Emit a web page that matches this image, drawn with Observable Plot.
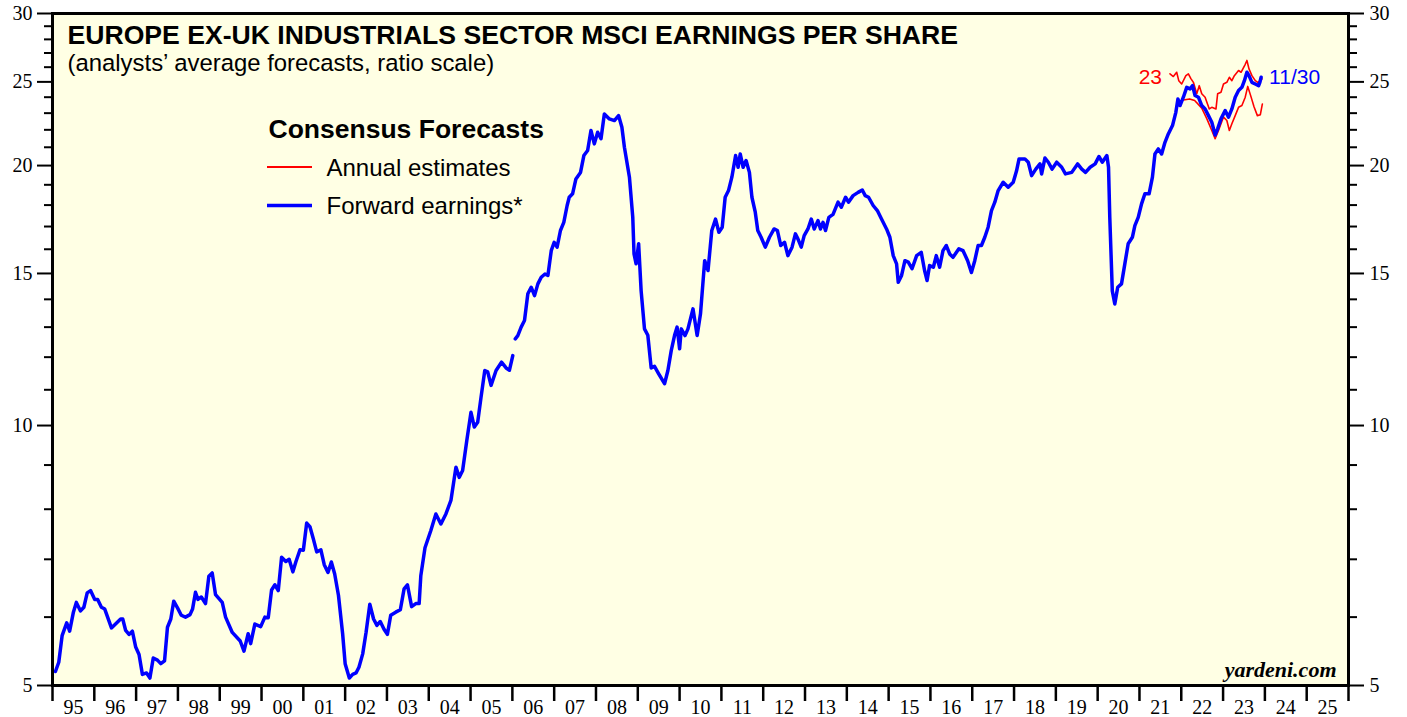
<!DOCTYPE html>
<html><head><meta charset="utf-8">
<script src="https://cdn.jsdelivr.net/npm/d3@7"></script>
<script src="https://cdn.jsdelivr.net/npm/@observablehq/plot@0.6"></script>
<style>html,body{margin:0;padding:0;background:#fff;} svg{display:block}</style>
</head><body><div id="chart"></div>
<script>
// ---- Data ----
const fwdYears = [
1995.07,1995.15,1995.23,1995.34,1995.41,1995.50,1995.57,1995.67,1995.75,1995.83,1995.91,
1996.01,1996.08,1996.17,1996.25,1996.41,1996.63,1996.68,1996.75,1996.83,1996.91,1996.99,
1997.07,1997.15,1997.25,1997.33,1997.41,1997.51,1997.59,1997.68,1997.75,1997.83,1997.90,1997.99,
1998.08,1998.18,1998.29,1998.35,1998.42,1998.48,1998.56,1998.66,1998.74,1998.82,1998.90,
1999.06,1999.14,1999.30,1999.49,1999.58,1999.68,1999.74,1999.84,1999.98,
2000.08,2000.16,2000.24,2000.32,2000.40,2000.48,2000.58,2000.66,2000.75,2000.82,2000.92,
2001.00,2001.08,2001.16,2001.24,2001.32,2001.42,2001.50,2001.59,2001.67,2001.75,2001.84,2001.94,
2002.00,2002.10,2002.18,2002.26,2002.33,2002.42,2002.50,2002.59,2002.68,2002.76,2002.84,2002.93,
2003.01,2003.09,2003.21,2003.32,2003.41,2003.49,2003.59,2003.69,2003.77,2003.81,2003.91,
2004.05,2004.17,2004.29,2004.41,2004.53,2004.65,2004.73,2004.81,2004.91,
2005.01,2005.09,2005.17,2005.25,2005.34,2005.41,2005.49,2005.61,2005.74,2005.85,2005.93,
2006.01,2006.04,2006.07,2006.13,2006.21,2006.29,2006.37,2006.45,2006.53,2006.61,2006.69,2006.78,2006.85,2006.93,
2007.00,2007.07,2007.15,2007.23,2007.31,2007.36,2007.44,2007.52,2007.63,2007.71,2007.80,2007.88,2007.96,
2008.04,2008.12,2008.20,2008.32,2008.44,2008.54,2008.62,2008.68,2008.72,2008.80,2008.88,2008.91,2008.96,
2009.02,2009.08,2009.16,2009.24,2009.32,2009.40,2009.50,2009.64,2009.72,2009.80,2009.88,2009.94,
2010.00,2010.04,2010.13,2010.20,2010.32,2010.42,2010.50,2010.60,2010.68,2010.77,2010.86,2010.94,
2011.02,2011.09,2011.17,2011.25,2011.34,2011.40,2011.45,2011.52,2011.59,2011.67,2011.73,2011.81,2011.87,2011.95,
2012.05,2012.15,2012.26,2012.34,2012.42,2012.51,2012.59,2012.69,2012.77,2012.83,2012.91,2012.98,
2013.07,2013.15,2013.22,2013.31,2013.37,2013.43,2013.49,2013.57,2013.67,2013.79,2013.87,2013.97,
2014.04,2014.15,2014.27,2014.37,2014.44,2014.52,2014.63,2014.73,2014.83,2014.95,
2015.03,2015.11,2015.19,2015.23,2015.31,2015.39,2015.47,2015.56,2015.67,2015.78,2015.86,2015.92,2015.98,
2016.07,2016.14,2016.22,2016.30,2016.38,2016.46,2016.54,2016.68,2016.78,2016.89,2016.98,
2017.06,2017.14,2017.22,2017.30,2017.38,2017.46,2017.54,2017.62,2017.74,2017.86,2017.98,
2018.06,2018.12,2018.26,2018.34,2018.42,2018.52,2018.62,2018.66,2018.74,2018.82,2018.91,
2019.02,2019.14,2019.23,2019.38,2019.52,2019.62,2019.71,2019.82,2019.94,
2020.03,2020.11,2020.22,2020.26,2020.29,2020.35,2020.41,2020.48,2020.57,2020.65,2020.73,2020.83,2020.89,2020.97,
2021.05,2021.13,2021.23,2021.31,2021.37,2021.45,2021.53,2021.61,2021.69,2021.79,2021.87,2021.92,2021.97,
2022.05,2022.13,2022.21,2022.27,2022.33,2022.41,2022.49,2022.57,2022.65,2022.73,2022.81,2022.87,2022.95,
2023.05,2023.13,2023.21,2023.29,2023.37,2023.45,2023.51,2023.57,2023.62,2023.69,2023.77,2023.85,2023.88,2023.91
];
const fwdEps = [
5.19,5.32,5.71,5.91,5.78,6.08,6.24,6.10,6.16,6.40,6.44,
6.29,6.29,6.16,6.13,5.83,5.97,5.97,5.79,5.73,5.78,5.54,
5.43,5.15,5.17,5.10,5.38,5.35,5.30,5.34,5.84,5.97,6.26,6.15,
6.03,6.00,6.04,6.13,6.41,6.29,6.33,6.22,6.69,6.75,6.37,
6.24,6.00,5.76,5.63,5.48,5.74,5.59,5.89,5.85,
6.00,5.99,6.45,6.54,6.44,7.04,6.96,7.00,6.77,6.95,7.18,
7.17,7.71,7.63,7.39,7.14,7.18,6.90,6.76,6.95,6.73,6.36,5.74,
5.30,5.10,5.15,5.17,5.25,5.44,5.76,6.21,5.97,5.87,5.93,5.81,
5.73,6.03,6.08,6.12,6.47,6.54,6.17,6.22,6.22,6.70,7.22,
7.56,7.90,7.69,7.90,8.19,8.95,8.71,8.87,9.61,
10.36,9.96,10.09,10.78,11.58,11.54,11.13,11.58,11.84,11.66,11.59,
12.05,null,12.60,12.71,13.00,13.23,14.21,14.46,14.14,14.59,14.85,14.98,14.92,15.94,
16.30,16.09,16.82,17.19,17.98,18.38,18.55,19.30,19.64,20.54,20.82,21.96,21.19,
21.86,21.48,22.95,22.65,22.55,22.85,22.15,21.00,20.45,19.39,17.42,15.80,15.39,
16.24,14.32,12.94,12.72,11.66,11.71,11.48,11.18,11.58,12.21,12.72,13.00,
12.27,12.94,12.71,12.94,13.65,12.71,13.47,15.52,15.12,16.82,17.34,16.74,
16.97,18.38,18.71,19.39,20.54,19.91,20.63,19.91,20.27,19.64,18.38,17.66,16.82,16.52,
16.09,16.52,16.89,16.82,16.16,16.30,15.73,16.09,16.67,16.45,16.09,16.59,
16.89,17.34,16.89,17.27,16.89,17.19,16.82,17.42,17.56,18.14,17.90,18.38,
18.14,18.46,18.62,18.74,18.46,18.38,17.98,17.74,17.34,16.89,
16.52,15.73,15.39,14.65,14.92,15.52,15.46,15.19,15.73,15.87,15.12,14.72,15.32,
15.25,15.73,15.25,15.94,16.16,15.80,15.66,16.02,15.94,15.52,15.04,
15.52,16.16,16.16,16.52,16.97,17.74,18.14,18.71,19.13,18.88,19.13,
19.72,20.36,20.36,20.18,19.47,19.81,20.09,19.56,20.41,20.18,19.81,
20.18,19.91,19.56,19.64,20.09,19.81,19.64,19.91,20.09,
20.49,20.18,20.54,19.91,17.42,14.32,13.83,14.46,14.59,15.39,16.24,16.52,17.04,17.42,
18.06,18.55,18.55,19.39,20.63,20.91,20.63,21.28,21.76,22.25,23.05,23.89,23.47,
24.00,24.64,24.54,24.75,24.11,24.00,23.47,23.26,22.85,22.45,21.70,22.06,22.65,
23.16,22.76,23.26,24.00,24.43,24.64,25.08,25.65,25.42,24.97,24.86,24.75,24.97,25.31
];
// Annual estimates, upper line (labelled "23")
const estAYears = [2021.73,2021.81,2021.89,2021.94,2022.01,2022.11,2022.17,2022.23,2022.29,2022.37,2022.43,2022.49,2022.57,2022.67,2022.73,2022.83,2022.87,2022.95,2023.01,2023.09,2023.15,2023.21,2023.27,2023.37,2023.43,2023.53,2023.57,2023.62,2023.69,2023.77,2023.83,2023.89,2023.93];
const estAEps   = [25.54,25.36,25.65,25.08,24.86,25.42,25.54,25.22,24.97,24.22,24.75,24.22,24.00,23.26,23.36,23.26,24.22,24.32,24.86,24.97,25.31,25.08,25.42,25.77,25.65,26.20,26.47,25.88,25.42,25.08,24.97,25.08,25.20];
// Annual estimates, lower line
const estBYears = [2022.05,2022.20,2022.32,2022.49,2022.61,2022.73,2022.81,2022.89,2023.01,2023.09,2023.15,2023.21,2023.29,2023.37,2023.45,2023.53,2023.59,2023.66,2023.74,2023.82,2023.89,2023.94];
const estBEps   = [23.82,23.89,23.79,23.31,22.67,21.96,21.48,21.96,22.76,22.55,21.96,22.36,22.85,23.36,23.47,24.00,24.70,24.10,23.40,22.85,22.90,23.57];

const yTicksMajor = [5,10,15,20,25,30];
const yTicksMinor = [6,7,8,9,11,12,13,14,16,17,18,19,21,22,23,24,26,27,28,29];
const yearStarts = [1995,1996,1997,1998,1999,2000,2001,2002,2003,2004,2005,2006,2007,2008,2009,2010,2011,2012,2013,2014,2015,2016,2017,2018,2019,2020,2021,2022,2023,2024,2025,2026];
const yearLabels = ["95","96","97","98","99","00","01","02","03","04","05","06","07","08","09","10","11","12","13","14","15","16","17","18","19","20","21","22","23","24","25"];

const titleText = "EUROPE EX-UK INDUSTRIALS SECTOR MSCI EARNINGS PER SHARE";
const subtitleText = "(analysts\u2019 average forecasts, ratio scale)";
const legendTitle = "Consensus Forecasts";
const legendItems = ["Annual estimates", "Forward earnings*"];
const estLabel = "23";
const lastDateLabel = "11/30";
const sourceText = "yardeni.com";

// ---- Build tables ----
const fwd = fwdYears.map((t, i) => ({t, v: fwdEps[i]}));
const estA = estAYears.map((t, i) => ({t, v: estAEps[i]}));
const estB = estBYears.map((t, i) => ({t, v: estBEps[i]}));
const yearMids = yearStarts.slice(0, -1).map(y => y + 0.5);

const W = 1407, H = 717, ML = 52, MT = 13, MR = 59, MB = 32;
const SANS = "'Liberation Sans', Arial, Helvetica, sans-serif";
const SERIF = "'Liberation Serif', 'Times New Roman', serif";
const RED = "#ff0000", BLUE = "#0000ff";

function note(str, px, py, opts = {}) {
  return Plot.text([str], {
    text: d => d, frameAnchor: "top-left", dx: px - ML, dy: py - MT,
    textAnchor: "start", lineAnchor: "bottom", fill: "#000",
    fontFamily: SANS, ...opts
  });
}

const chart = Plot.plot({
  width: W, height: H,
  marginLeft: ML, marginRight: MR, marginTop: MT, marginBottom: MB,
  style: {background: "#ffffff", fontFamily: SERIF, fontSize: "20px", color: "#000", overflow: "visible"},
  x: {domain: [1995, 2026], label: null},
  y: {type: "log", domain: [5, 30], label: null},
  marks: [
    Plot.frame({fill: "#ffffe4", stroke: null}),
    // y axes
    Plot.axisY({anchor: "left", ticks: yTicksMinor, tickSize: 8, tickFormat: () => "", strokeWidth: 2}),
    Plot.axisY({anchor: "left", ticks: yTicksMajor, tickSize: 15, tickPadding: 5, tickFormat: d => String(d), strokeWidth: 2}),
    Plot.axisY({anchor: "right", ticks: yTicksMinor, tickSize: 8, tickFormat: () => "", strokeWidth: 2}),
    Plot.axisY({anchor: "right", ticks: yTicksMajor, tickSize: 15, tickPadding: 6, tickFormat: d => String(d), strokeWidth: 2}),
    // x axis
    Plot.axisX({anchor: "bottom", ticks: yearStarts, tickSize: 16, tickFormat: () => "", strokeWidth: 2.5}),
    Plot.axisX({anchor: "bottom", ticks: yearMids, tickSize: 0, tickPadding: 14, tickFormat: d => yearLabels[Math.floor(d) - 1995]}),
    // series
    Plot.line(estA, {x: "t", y: "v", stroke: RED, strokeWidth: 1.6}),
    Plot.line(estB, {x: "t", y: "v", stroke: RED, strokeWidth: 1.6}),
    Plot.line(fwd, {x: "t", y: "v", stroke: BLUE, strokeWidth: 3.5, strokeLinejoin: "round"}),
    // end labels
    Plot.text([estA[0]], {x: "t", y: "v", text: () => estLabel, textAnchor: "end", lineAnchor: "bottom", dx: -8, dy: 10, fill: RED, fontFamily: SANS, fontSize: 21}),
    Plot.text([fwd[fwd.length - 1]], {x: "t", y: "v", text: () => lastDateLabel, textAnchor: "start", lineAnchor: "bottom", dx: 8, dy: 7, fill: BLUE, fontFamily: SANS, fontSize: 21}),
    // titles
    note(titleText, 67, 43, {fontSize: 26.6, fontWeight: "bold"}),
    note(subtitleText, 67, 70, {fontSize: 23.9}),
    note(legendTitle, 268, 137, {fontSize: 26.5, fontWeight: "bold"}),
    note(legendItems[0], 326, 175, {fontSize: 24}),
    note(legendItems[1], 326, 213, {fontSize: 24}),
    Plot.text([sourceText], {text: d => d, frameAnchor: "bottom-right", dx: -12, dy: -9, textAnchor: "end", lineAnchor: "bottom", fontFamily: SERIF, fontWeight: "bold", fontStyle: "italic", fontSize: 22, fill: "#000"}),
    Plot.frame({stroke: "#000", strokeWidth: 3})
  ]
});

// legend swatches
const svg = d3.select(chart);
svg.append("line").attr("x1", 267).attr("x2", 312).attr("y1", 167).attr("y2", 167)
  .attr("stroke", RED).attr("stroke-width", 1.8);
svg.append("line").attr("x1", 267).attr("x2", 312).attr("y1", 205.5).attr("y2", 205.5)
  .attr("stroke", BLUE).attr("stroke-width", 3.5);

document.getElementById("chart").append(chart);
</script>
</body></html>
